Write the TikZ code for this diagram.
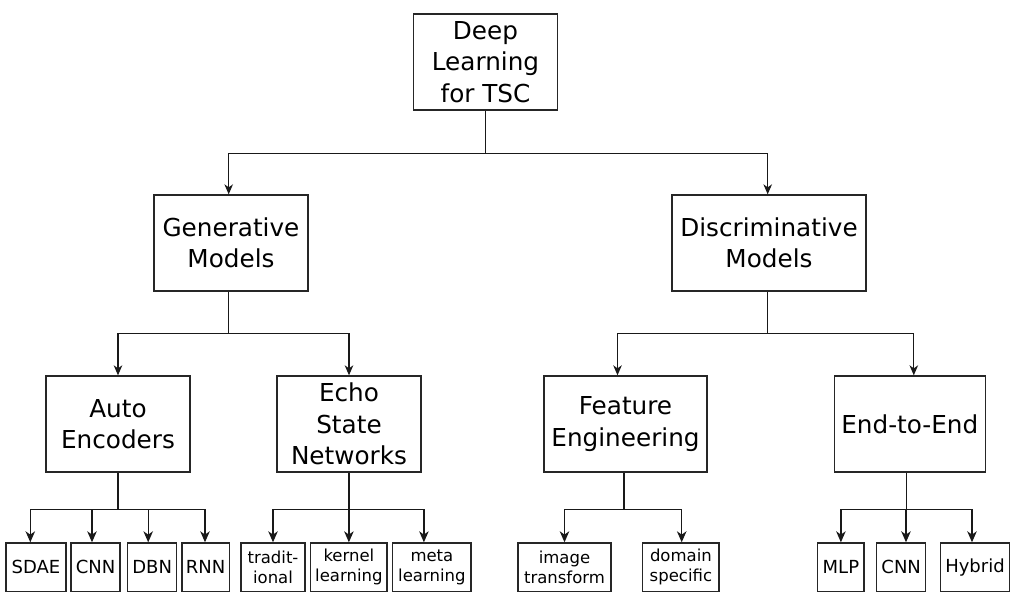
\documentclass[tikz,border=0pt]{standalone}
\usepackage{fontspec}
\setmainfont{DejaVu Sans}
\usetikzlibrary{arrows.meta}
\tikzset{
  box/.style={draw=black!85, line width=1.3pt, inner sep=0pt, align=center, text=black},
  big/.style={box, font=\fontsize{24.7}{31.3}\selectfont},
  small/.style={box, font=\fontsize{18}{20}\selectfont, minimum height=48.5pt},
  smalltwo/.style={box, font=\fontsize{16.5}{20}\selectfont, minimum height=48.5pt},
  conn/.style={draw=black!90, line width=1.3pt},
  arr/.style={conn, -{Stealth[length=10pt,width=8.5pt,inset=3pt]}},
  arrb/.style={conn, -{Stealth[length=11pt,width=9.5pt,inset=3.3pt]}}
}
\begin{document}
\begin{tikzpicture}[x=1pt,y=-1pt]
\useasboundingbox (0,0) rectangle (1020,607);
% level 0
\node[big, minimum width=144.4pt, minimum height=96pt] (root) at (485.5,62) {Deep\\Learning\\for TSC};
% level 1
\node[big, minimum width=154pt, minimum height=96pt] (gen) at (231,243) {Generative\\Models};
\node[big, minimum width=194pt, minimum height=96pt] (disc) at (769,243) {Discriminative\\Models};
% level 2
\node[big, minimum width=144pt, minimum height=96pt] (auto) at (118,424) {Auto\\Encoders};
\node[big, minimum width=144pt, minimum height=96pt] (echo) at (349,424) {Echo\\State\\Networks};
\node[big, minimum width=163pt, minimum height=96pt] (feat) at (625.5,424) {Feature\\Engineering};
\node[big, minimum width=151pt, minimum height=96pt] (end) at (909.8,424) {End-to-End};
% level 3
\node[small, minimum width=60pt] (sdae) at (36,567.2) {SDAE};
\node[small, minimum width=49pt] (cnna) at (95.5,567.2) {CNN};
\node[small, minimum width=49pt] (dbn) at (152.2,567.2) {DBN};
\node[small, minimum width=47.3pt] (rnn) at (205.7,567.2) {RNN};
\node[smalltwo, minimum width=64pt] (trad) at (273,567.2) {tradit-\\ional};
\node[smalltwo, minimum width=76.3pt] (kern) at (348.9,567.2) {kernel\\learning};
\node[smalltwo, minimum width=78.3pt] (meta) at (431.9,567.2) {meta\\learning};
\node[smalltwo, minimum width=93pt] (img) at (564.5,567.2) {image\\transform};
\node[smalltwo, minimum width=76.3pt] (dom) at (680.9,567.2) {domain\\specific};
\node[small, minimum width=46.3pt] (mlp) at (840.9,567.2) {MLP};
\node[small, minimum width=49pt] (cnnb) at (901.2,567.2) {CNN};
\node[small, minimum width=68.6pt] (hyb) at (975,567.2) {Hybrid};
% connectors level 0 -> 1
\draw[conn] (root.south) -- ++(0,43) coordinate (j0);
\draw[arr] (j0) -| ([xshift=-2.3pt]gen.north);
\draw[arr] (j0) -| ([xshift=-1.3pt]disc.north);
% level 1 -> 2
\draw[conn] ([xshift=-2.3pt]gen.south) -- ++(0,42) coordinate (j1);
\draw[arr] (j1) -| (auto.north);
\draw[arr] (j1) -| (echo.north);
\draw[conn] ([xshift=-1.3pt]disc.south) -- ++(0,42) coordinate (j2);
\draw[arr] (j2) -| ([xshift=-8pt]feat.north);
\draw[arr] (j2) -| ([xshift=4pt]end.north);
% level 2 -> 3
\draw[conn] (auto.south) -- ++(0,36.5) coordinate (j3);
\draw[arrb] (j3) -| ([xshift=-5.7pt]sdae.north);
\draw[arrb] (j3) -| ([xshift=-3.5pt]cnna.north);
\draw[arrb] (j3) -| ([xshift=-4pt]dbn.north);
\draw[arrb] (j3) -| ([xshift=-0.7pt]rnn.north);
\draw[conn] (echo.south) -- ++(0,36.5) coordinate (j4);
\draw[arrb] (j4) -| (trad.north);
\draw[arrb] (j4) -| (kern.north);
\draw[arrb] (j4) -| ([xshift=-8pt]meta.north);
\draw[conn] ([xshift=-1.5pt]feat.south) -- ++(0,37) coordinate (j5);
\draw[arrb] (j5) -| (img.north);
\draw[arrb] (j5) -| ([xshift=0.8pt]dom.north);
\draw[conn] ([xshift=-3pt]end.south) -- ++(0,37) coordinate (j6);
\draw[arrb] (j6) -| (mlp.north);
\draw[arrb] (j6) -| ([xshift=4.8pt]cnnb.north);
\draw[arrb] (j6) -| ([xshift=-3pt]hyb.north);
\end{tikzpicture}
\end{document}
